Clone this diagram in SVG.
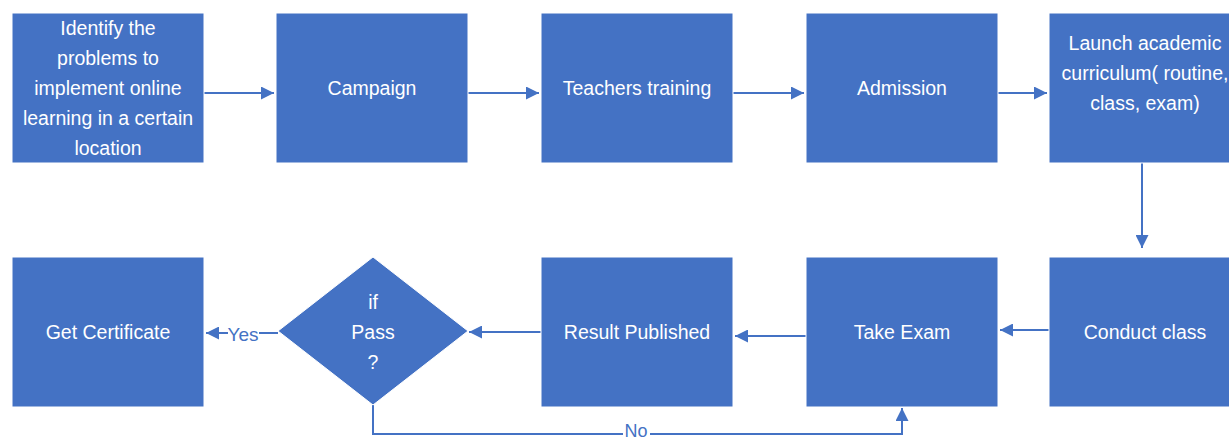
<svg xmlns="http://www.w3.org/2000/svg" width="1229" height="442" viewBox="0 0 1229 442">
<style>
.n{fill:#4472C4;stroke:#ffffff;stroke-width:1}
.t{font-family:"Liberation Sans",Arial,sans-serif;font-size:19.5px;fill:#ffffff;text-anchor:middle;dominant-baseline:central}
.c{fill:none;stroke:#4472C4;stroke-width:2}
.l{font-family:"Liberation Sans",Arial,sans-serif;font-size:19px;fill:#4472C4;text-anchor:middle;dominant-baseline:central}
</style>
<defs>
<marker id="a" viewBox="0 0 10 10" refX="10" refY="5" markerWidth="6.5" markerHeight="6.5" orient="auto" markerUnits="strokeWidth">
<path d="M0,0L10,5L0,10z" fill="#4472C4"/>
</marker>
</defs>
<rect width="1229" height="442" fill="#ffffff"/>
<g id="connectors">
<line class="c" x1="204" y1="93" x2="274" y2="93" marker-end="url(#a)"/>
<line class="c" x1="468" y1="93" x2="539" y2="93" marker-end="url(#a)"/>
<line class="c" x1="733" y1="93" x2="804" y2="93" marker-end="url(#a)"/>
<line class="c" x1="997" y1="93" x2="1047" y2="93" marker-end="url(#a)"/>
<line class="c" x1="1142" y1="163" x2="1142" y2="248" marker-end="url(#a)"/>
<line class="c" x1="1049" y1="330" x2="1000" y2="330" marker-end="url(#a)"/>
<line class="c" x1="806" y1="336" x2="735" y2="336" marker-end="url(#a)"/>
<line class="c" x1="541" y1="332" x2="469" y2="332" marker-end="url(#a)"/>
<polyline class="c" points="278,333 259,333"/>
<line class="c" x1="228" y1="333" x2="206" y2="333" marker-end="url(#a)"/>
<polyline class="c" points="373,405 373,434 623,434"/>
<polyline class="c" points="650,434 902,434 902,408" marker-end="url(#a)"/>
<text class="l" x="243" y="334">Yes</text>
<text class="l" x="636" y="431" style="font-size:18px">No</text>
</g>
<g id="n1"><rect class="n" x="12" y="13" width="192" height="150"/>
<text class="t" x="108" y="28">Identify the</text>
<text class="t" x="108" y="58">problems to</text>
<text class="t" x="108" y="88">implement online</text>
<text class="t" x="108" y="118">learning in a certain</text>
<text class="t" x="108" y="148">location</text></g>
<g id="n2"><rect class="n" x="276" y="13" width="192" height="150"/><text class="t" x="372" y="88">Campaign</text></g>
<g id="n3"><rect class="n" x="541" y="13" width="192" height="150"/><text class="t" x="637" y="88">Teachers training</text></g>
<g id="n4"><rect class="n" x="806" y="13" width="192" height="150"/><text class="t" x="902" y="88">Admission</text></g>
<g id="n5"><rect class="n" x="1049" y="13" width="192" height="150"/>
<text class="t" x="1145" y="43">Launch academic</text>
<text class="t" x="1145" y="73">curriculum( routine,</text>
<text class="t" x="1145" y="103">class, exam)</text></g>
<g id="n6"><rect class="n" x="1049" y="257" width="192" height="150"/><text class="t" x="1145" y="332">Conduct class</text></g>
<g id="n7"><rect class="n" x="806" y="257" width="192" height="150"/><text class="t" x="902" y="332">Take Exam</text></g>
<g id="n8"><rect class="n" x="541" y="257" width="192" height="150"/><text class="t" x="637" y="332">Result Published</text></g>
<g id="n9"><polygon class="n" points="373,257 468,331 373,405 278,331"/>
<text class="t" x="373" y="302">if</text>
<text class="t" x="373" y="332">Pass</text>
<text class="t" x="373" y="362">?</text></g>
<g id="n10"><rect class="n" x="12" y="257" width="192" height="150"/><text class="t" x="108" y="332">Get Certificate</text></g>
</svg>
